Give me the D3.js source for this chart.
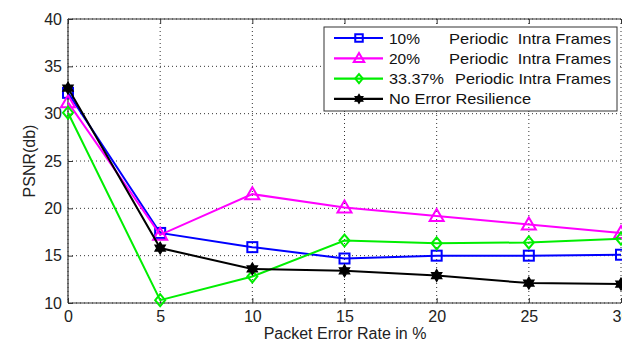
<!DOCTYPE html>
<html>
<head>
<meta charset="utf-8">
<script src="https://cdn.jsdelivr.net/npm/d3@7"></script>
<style>
  html, body { margin: 0; padding: 0; background: #fff; }
  svg { display: block; font-family: "Liberation Sans", Arial, sans-serif; }
</style>
</head>
<body>
<svg id="chart" width="622" height="342"></svg>
<script>
// Packet error rate (%) on the x axis
const errorRates = [0, 5, 10, 15, 20, 25, 30];

// PSNR (dB) for each scheme
const psnr10 = [32.2, 17.4, 15.9, 14.7, 15.0, 15.0, 15.1];
const psnr20 = [31.2, 17.2, 21.5, 20.1, 19.2, 18.3, 17.4];
const psnr33 = [30.1, 10.3, 12.8, 16.6, 16.3, 16.4, 16.8];
const psnrNone = [32.7, 15.8, 13.6, 13.4, 12.9, 12.1, 12.0];

const seriesNames = [
  ["10%", "Periodic  Intra Frames"],
  ["20%", "Periodic  Intra Frames"],
  ["33.37%", "Periodic Intra Frames"],
  ["No Error Resilience", ""]
];
const seriesColors = ["#0000ff", "#ff00ff", "#00ee00", "#000000"];
const seriesMarkers = ["square", "triangle", "diamond", "star"];

const xTicks = [0, 5, 10, 15, 20, 25, 30];
const yTicks = [10, 15, 20, 25, 30, 35, 40];

const svg = d3.select("#chart");
const pLeft = 68, pRight = 621, pTop = 19, pBottom = 303;

const x = d3.scaleLinear().domain([0, 30]).range([pLeft, pRight]);
const y = d3.scaleLinear().domain([10, 40]).range([pBottom, pTop]);

// dotted grid
const grid = svg.append("g");
xTicks.forEach(t => {
  grid.append("line").attr("x1", x(t)).attr("x2", x(t)).attr("y1", pTop).attr("y2", pBottom)
    .attr("stroke", "#333").attr("stroke-width", 1).attr("stroke-dasharray", "1,3");
});
yTicks.forEach(t => {
  grid.append("line").attr("x1", pLeft).attr("x2", pRight).attr("y1", y(t)).attr("y2", y(t))
    .attr("stroke", "#333").attr("stroke-width", 1).attr("stroke-dasharray", "1,3");
});

// axes (ticks point inward)
const xAxis = d3.axisBottom(x).tickValues(xTicks).tickSize(-5).tickPadding(8).tickFormat(d3.format("d"));
const yAxis = d3.axisLeft(y).tickValues(yTicks).tickSize(-5).tickPadding(6).tickFormat(d3.format("d"));
const xTop = d3.axisTop(x).tickValues(xTicks).tickSize(-5).tickFormat("");

const gx = svg.append("g").attr("transform", `translate(0,${pBottom})`).call(xAxis);
const gy = svg.append("g").attr("transform", `translate(${pLeft},0)`).call(yAxis);
const gt = svg.append("g").attr("transform", `translate(0,${pTop})`).call(xTop);
[gx, gy, gt].forEach(g => {
  g.selectAll("path").attr("stroke", "#333").attr("stroke-width", 1.2);
  g.selectAll("line").attr("stroke", "#333");
  g.selectAll("text").attr("fill", "#222").style("font-size", "16px")
    .style("font-family", "'Liberation Sans', Arial, sans-serif");
});
gx.select(".domain").attr("d", `M${pLeft},0H${pRight}`);
gt.select(".domain").attr("d", `M${pLeft},0H${pRight}`);
gy.select(".domain").attr("d", `M0,${pTop}V${pBottom}`);

// axis titles
svg.append("text").attr("x", 345).attr("y", 339).attr("text-anchor", "middle")
  .attr("fill", "#222").style("font-size", "16px").text("Packet Error Rate in %");
svg.append("text").attr("transform", `translate(35,${(pTop + pBottom) / 2}) rotate(-90)`)
  .attr("text-anchor", "middle").attr("fill", "#222").style("font-size", "16px").text("PSNR(db)");

// hexagram path centred on 0,0
function hexagram(r) {
  const pts = [];
  for (let i = 0; i < 12; i++) {
    const a = -Math.PI / 2 + i * Math.PI / 6;
    const rr = i % 2 === 0 ? r : r * 0.58;
    pts.push([rr * Math.cos(a), rr * Math.sin(a)]);
  }
  return "M" + pts.map(p => p.join(",")).join("L") + "Z";
}

// marker drawing
function drawMarker(g, type, cx, cy, color, s) {
  if (type === "square") {
    g.append("rect").attr("x", cx - 5 * s).attr("y", cy - 5 * s).attr("width", 10 * s).attr("height", 10 * s)
      .attr("fill", "none").attr("stroke", color).attr("stroke-width", 2);
  } else if (type === "triangle") {
    g.append("path").attr("d", `M${cx},${cy - 7 * s}L${cx + 7 * s},${cy + 5 * s}L${cx - 7 * s},${cy + 5 * s}Z`)
      .attr("fill", "none").attr("stroke", color).attr("stroke-width", 2);
  } else if (type === "diamond") {
    g.append("path").attr("d", `M${cx},${cy - 6 * s}L${cx + 5 * s},${cy}L${cx},${cy + 6 * s}L${cx - 5 * s},${cy}Z`)
      .attr("fill", "none").attr("stroke", color).attr("stroke-width", 2);
  } else {
    g.append("path").attr("d", hexagram(6 * s))
      .attr("transform", `translate(${cx},${cy})`)
      .attr("fill", color).attr("stroke", color).attr("stroke-width", 1.2);
  }
}

const allSeries = [psnr10, psnr20, psnr33, psnrNone];
const line = d3.line().x((d, i) => x(errorRates[i])).y(d => y(d));
const plot = svg.append("g");
allSeries.forEach((vals, k) => {
  plot.append("path").datum(vals).attr("d", line).attr("fill", "none")
    .attr("stroke", seriesColors[k]).attr("stroke-width", 2);
  vals.forEach((v, i) => drawMarker(plot, seriesMarkers[k], x(errorRates[i]), y(v), seriesColors[k], 1));
});

// legend
const lg = svg.append("g");
lg.append("rect").attr("x", 324).attr("y", 27).attr("width", 293).attr("height", 84)
  .attr("fill", "#fff").attr("stroke", "#333").attr("stroke-width", 1);
const firstWidths = [31, 31, 55, 142];
seriesNames.forEach((nm, k) => {
  const ry = 38 + k * 20.3;
  lg.append("line").attr("x1", 334).attr("x2", 383).attr("y1", ry).attr("y2", ry)
    .attr("stroke", seriesColors[k]).attr("stroke-width", 2.2);
  drawMarker(lg, seriesMarkers[k], 359, ry, seriesColors[k], 0.75);
  lg.append("text").attr("x", 389).attr("y", ry + 5.5).attr("fill", "#111")
    .style("font-size", "15px")
    .attr("textLength", firstWidths[k]).attr("lengthAdjust", "spacingAndGlyphs")
    .text(nm[0]);
  if (nm[1]) {
    const sx = k === 2 ? 455 : 449;
    lg.append("text").attr("x", sx).attr("y", ry + 5.5).attr("fill", "#111")
      .style("font-size", "15px").style("white-space", "pre")
      .attr("textLength", 611 - sx).attr("lengthAdjust", "spacingAndGlyphs")
      .text(nm[1]);
  }
});
</script>
</body>
</html>
